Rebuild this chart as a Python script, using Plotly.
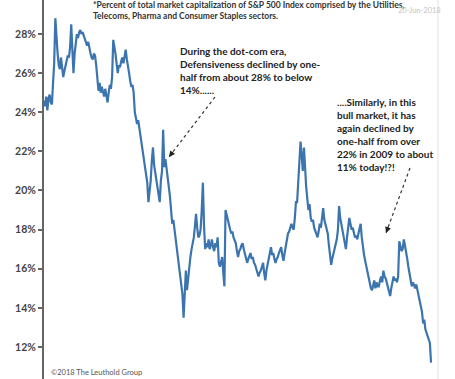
import pandas as pd
import plotly.graph_objects as go

# Defensive sectors share of S&P 500 market cap (%), monthly, Jan 1990 - Jun 2018
start_month = "1990-01-01"
defensive_pct = [
    # 1990
    24.6, 24.3, 24.8, 24.1, 24.7, 24.9, 24.5, 24.4, 25.5, 26.5, 28.8, 27.5,
    # 1991
    27.0, 26.4, 26.2, 26.8, 26.3, 25.8, 26.1, 26.4, 26.5, 26.9, 26.8, 27.3,
    # 1992
    28.5, 27.1, 26.0, 27.0, 27.6, 28.0, 27.8, 28.1, 28.2, 28.0, 28.1, 27.9,
    # 1993
    27.8, 27.5, 27.4, 27.6, 27.2, 27.0, 26.8, 26.7, 27.0, 26.9, 26.4, 25.8,
    # 1994
    25.1, 25.5, 25.0, 25.3, 25.0, 24.8, 25.2, 24.9, 24.5, 25.0, 25.4, 25.2,
    # 1995
    25.8, 27.7, 27.2, 27.0, 26.5, 26.0, 26.4, 26.3, 26.6, 26.8, 26.5, 26.9,
    # 1996
    27.2, 26.7, 26.2, 26.0, 25.6, 25.3, 25.4, 25.0, 24.0, 23.7, 23.4, 23.6,
    # 1997
    23.2, 22.9, 22.5, 22.0, 21.8, 21.4, 20.9, 20.4, 19.4, 19.9, 20.5, 21.5,
    # 1998
    22.2, 21.3, 20.9, 20.6, 20.2, 19.7, 19.4, 20.5, 21.0, 23.1, 21.2, 21.6,
    # 1999
    21.0, 20.7, 20.2, 19.7, 19.0, 18.3, 18.5, 18.0, 17.8, 17.2, 16.6, 16.1,
    # 2000
    15.6, 15.1, 14.7, 13.5, 14.8, 15.9, 14.9, 15.6, 16.1, 16.6, 17.0, 17.3,
    # 2001
    17.6, 18.2, 18.8, 18.1, 17.6, 17.7, 18.0, 19.0, 20.4, 18.2, 17.0, 17.3,
    # 2002
    17.1, 17.5, 17.0, 17.2, 17.5, 17.1, 16.9, 17.3, 17.1, 17.6, 16.3, 16.1,
    # 2003
    16.4, 16.6, 15.8, 15.1, 19.0, 18.7, 18.5, 18.2, 18.0, 17.8, 17.9, 17.6,
    # 2004
    17.4, 17.3, 16.9, 16.6, 16.9, 17.0, 17.2, 17.3, 17.0, 16.8, 16.6, 16.3,
    # 2005
    16.5, 16.7, 16.8, 16.5, 16.6, 16.3, 16.2, 16.0, 15.8, 15.6, 15.8, 15.9,
    # 2006
    16.1, 16.3, 15.8, 15.4, 15.9, 16.2, 16.5, 16.8, 17.1, 16.7, 16.8, 16.5,
    # 2007
    16.3, 16.5, 16.6, 16.8, 17.0, 17.1, 16.7, 16.4, 16.8, 17.2, 17.5, 17.8,
    # 2008
    17.9, 18.1, 18.3, 18.1, 18.0, 18.6, 19.4, 19.4, 20.5, 21.6, 22.5, 21.8,
    # 2009
    21.0, 22.2, 21.0, 20.2, 19.6, 19.0, 19.3, 18.6, 18.4, 18.5, 18.1, 17.9,
    # 2010
    17.8, 17.6, 17.9, 18.3, 18.1, 18.6, 19.1, 18.5, 18.2, 18.0, 17.8, 17.2,
    # 2011
    16.6, 16.2, 16.5, 16.8, 17.1, 17.3, 17.5, 18.0, 19.2, 18.6, 18.3, 18.0,
    # 2012
    17.6, 17.3, 17.0, 17.6, 18.1, 18.6, 18.3, 18.0, 18.1, 17.8, 17.6, 17.7,
    # 2013
    17.5, 17.8, 18.0, 18.3, 17.6, 17.0, 16.7, 16.4, 16.1, 15.9, 15.6, 15.2,
    # 2014
    15.0, 14.9, 15.2, 15.4, 15.0, 15.3, 15.1, 15.1, 15.4, 15.6, 15.3, 15.9,
    # 2015
    15.6, 15.5, 15.3, 15.0, 14.8, 14.6, 15.0, 15.4, 15.6, 15.4, 15.5, 15.3,
    # 2016
    15.6, 17.4, 17.2, 16.9, 17.0, 17.5, 17.2, 16.7, 16.5, 16.1, 15.8, 15.5,
    # 2017
    15.1, 15.3, 15.1, 15.0, 15.2, 14.9, 14.6, 14.4, 14.1, 13.8, 13.2, 13.4,
    # 2018
    12.9, 12.7, 12.6, 12.4, 12.2, 11.2,
]
dates = pd.date_range(start_month, periods=len(defensive_pct), freq="MS")

tick_values = [12, 14, 16, 18, 20, 22, 24, 26, 28]
tick_labels = ["<b>12%</b>", "<b>14%</b>", "<b>16%</b>", "<b>18%</b>", "<b>20%</b>",
               "<b>22%</b>", "<b>24%</b>", "<b>26%</b>", "<b>28%</b>"]

W, H = 455, 379
ML, MR = 44, 17
PW = W - ML - MR


def px(x):
    return (x - ML) / PW


def py(y):
    return 1 - y / H


FONT = "Lato"
fig = go.Figure()
fig.add_trace(go.Scatter(x=dates, y=defensive_pct, mode="lines",
                         line=dict(color="#3b74ae", width=2.2), showlegend=False,
                         hoverinfo="skip"))

yr = [10.36, 29.74]
fig.update_layout(
    width=W, height=H,
    margin=dict(l=ML, r=MR, t=0, b=0),
    paper_bgcolor="white", plot_bgcolor="white",
    xaxis=dict(range=["1990-01-01", "2018-12-05"], visible=False),
    yaxis=dict(range=yr, showgrid=False, zeroline=False, showline=True,
               linecolor="#666666", linewidth=2, ticks="outside", ticklen=4,
               tickwidth=1.5, tickcolor="#666666", tickvals=tick_values,
               ticktext=tick_labels, tickfont=dict(family=FONT, size=10.5, color="#444444")),
    yaxis2=dict(range=yr, overlaying="y", matches="y", showgrid=False, zeroline=False,
                showline=False, ticks="inside", ticklen=4, tickwidth=1.5,
                tickcolor="#666666", tickvals=tick_values, showticklabels=False),
    font=dict(family=FONT),
)

annotations = [
    dict(x=px(91), y=py(5), text="<b>*Percent of total market capitalization of S&amp;P 500 Index comprised by the Utilities,</b>",
         font=dict(size=8.5, color="#333333")),
    dict(x=px(91), y=py(16), text="<b>Telecoms, Pharma and Consumer Staples sectors.</b>",
         font=dict(size=8.5, color="#333333")),
    dict(x=px(396), y=py(10), text="20-Jun-2018", font=dict(size=7.5, color="#c4c4c4")),
    dict(x=px(178), y=py(70.5),
         text="<b>During the dot-com era,<br>Defensiveness declined by one-<br>half from about 28% to below<br>14%......</b>",
         font=dict(size=10, color="#222222")),
    dict(x=px(334.5), y=py(134.5),
         text="<b>....Similarly, in this<br>bull market, it has<br>again declined by<br>one-half from over<br>22% in 2009 to about<br>11% today!?!</b>",
         font=dict(size=10, color="#222222")),
    dict(x=px(49), y=py(372), text="©2018 The Leuthold Group", font=dict(size=7.5, color="#555555")),
]
for a in annotations:
    fig.add_annotation(xref="paper", yref="paper", xanchor="left", yanchor="middle",
                       align="left", showarrow=False, **a)

# dotted pointer lines with arrow heads
arrows = [((215, 97), (169, 157)), ((410, 168), (386, 233))]
for (tx, ty), (hx, hy) in arrows:
    fig.add_shape(type="line", xref="paper", yref="paper", x0=px(tx), y0=py(ty),
                  x1=px(hx), y1=py(hy), line=dict(color="#333333", width=1.2, dash="dot"))
    dx, dy = tx - hx, ty - hy
    n = (dx * dx + dy * dy) ** 0.5
    fig.add_annotation(xref="paper", yref="paper", x=px(hx), y=py(hy), text="",
                       showarrow=True, arrowhead=2, arrowsize=1, arrowwidth=1.2,
                       arrowcolor="#222222", ax=dx / n * 8, ay=dy / n * 8)

# faint right border of the chart frame
fig.add_shape(type="line", xref="paper", yref="paper", x0=px(438), x1=px(438), y0=0, y1=1,
              line=dict(color="#e2e2e2", width=1))

fig.write_html("out.html", config={"displayModeBar": False},
               post_script="document.body.style.margin='0';document.body.style.overflow='hidden';")
